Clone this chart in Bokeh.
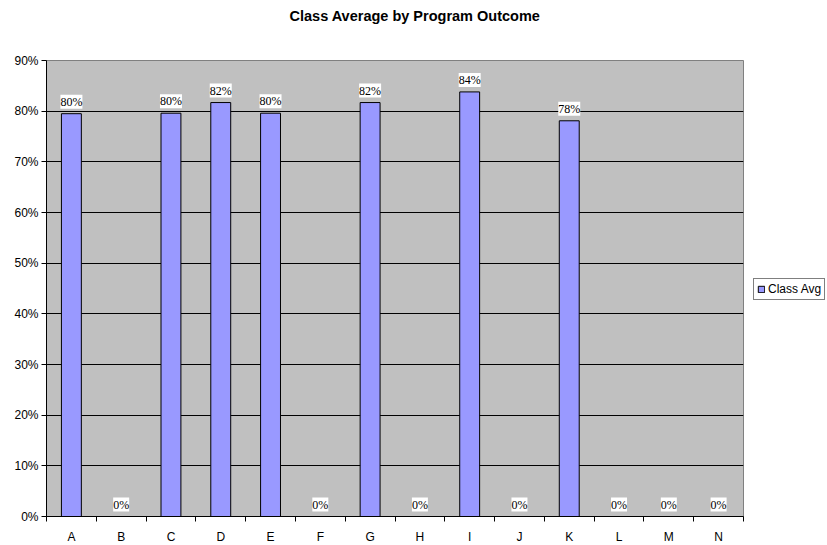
from bokeh.plotting import figure
from bokeh.layouts import row
from bokeh.models import (ColumnDataSource, FixedTicker, NumeralTickFormatter, Range1d,
                          LabelSet, Legend, LegendItem, Title)
from bokeh.embed import file_html
from bokeh.resources import INLINE

categories = ["A", "B", "C", "D", "E", "F", "G", "H", "I", "J", "K", "L", "M", "N"]
class_avg = [0.795, 0.0, 0.796, 0.817, 0.796, 0.0, 0.817, 0.0, 0.838, 0.0, 0.781, 0.0, 0.0, 0.0]
y_ticks = [0.0, 0.1, 0.2, 0.3, 0.4, 0.5, 0.6, 0.7, 0.8, 0.9]
title_text = "Class Average by Program Outcome"
series_name = "Class Avg"

FONT = "Liberation Sans"
FS = "12px"
BAR_FILL = "#9999FF"

xs = [i + 0.5 for i in range(len(categories))]
src = ColumnDataSource(dict(
    x=xs, top=class_avg,
    label=["{:.0f}%".format(v * 100) for v in class_avg],
))

FW, FH = 697, 456
TOP = 60
p = figure(frame_width=FW, frame_height=FH, output_backend="svg", toolbar_location=None,
           x_range=Range1d(0, len(categories)), y_range=Range1d(0, 0.9),
           min_border_left=46, min_border_right=1, min_border_top=TOP, min_border_bottom=0,
           background_fill_color="#C0C0C0", border_fill_color="white",
           outline_line_color="#808080", outline_line_width=1)

spacer = Title(text=" ", text_font=FONT, text_font_size="11px", standoff=23)
p.add_layout(spacer, "above")
t = Title(text=title_text, align="left", offset=243, text_font=FONT,
          text_font_size="14.5px", text_font_style="bold", text_color="black", standoff=0)
p.add_layout(t, "above")

bars = p.vbar(x="x", top="top", width=0.4, bottom=0, source=src,
              fill_color=BAR_FILL, line_color="black", line_width=1)

labels = LabelSet(x="x", y="top", text="label", source=src, text_align="center",
                  text_baseline="bottom", y_offset=5, text_font=FONT, text_font_size=FS,
                  text_color="black", background_fill_color="white")
p.add_layout(labels)

# y axis
p.yaxis.ticker = FixedTicker(ticks=y_ticks, minor_ticks=[])
p.yaxis.formatter = NumeralTickFormatter(format="0%")
p.yaxis.major_label_text_font = FONT
p.yaxis.major_label_text_font_size = FS
p.yaxis.major_label_text_color = "black"
p.yaxis.major_tick_out = 5
p.yaxis.major_tick_in = 0
p.yaxis.major_label_standoff = 3
p.yaxis.axis_line_color = "black"
p.yaxis.major_tick_line_color = "black"

# x axis: labels at centers, ticks between categories
p.xaxis.ticker = FixedTicker(ticks=xs, minor_ticks=list(range(len(categories) + 1)))
p.xaxis.major_label_overrides = {x: c for x, c in zip(xs, categories)}
p.xaxis.major_tick_out = 0
p.xaxis.major_tick_in = 0
p.xaxis.minor_tick_out = 5
p.xaxis.minor_tick_in = 0
p.xaxis.minor_tick_line_color = "black"
p.xaxis.major_label_standoff = 8
p.xaxis.major_label_text_font = FONT
p.xaxis.major_label_text_font_size = FS
p.xaxis.major_label_text_color = "black"
p.xaxis.axis_line_color = "black"

p.xgrid.visible = False
p.ygrid.ticker = FixedTicker(ticks=y_ticks)
p.ygrid.grid_line_color = "black"
p.ygrid.grid_line_width = 1

# legend panel as a small companion figure (its series is kept outside its visible range)
p2 = figure(width=827 - 47 - FW, frame_height=FH, output_backend="svg", toolbar_location=None,
            x_range=Range1d(-101, -100), y_range=Range1d(-101, -100),
            x_axis_type=None, y_axis_type=None,
            min_border_left=0, min_border_right=0, min_border_top=TOP, min_border_bottom=20,
            outline_line_color=None, background_fill_color="white", border_fill_color="white")
p2.xgrid.visible = False
p2.ygrid.visible = False
key = p2.vbar(x="x", top="top", width=0.4, bottom=0, source=src,
              fill_color=BAR_FILL, line_color="black", line_width=1)
legend = Legend(items=[LegendItem(label=series_name, renderers=[key])],
                location=(9, FH // 2 - 12), border_line_color="black", border_line_width=1,
                background_fill_color="white", background_fill_alpha=1,
                label_text_font=FONT, label_text_font_size=FS, label_text_color="black",
                glyph_width=8, glyph_height=8, label_standoff=3, padding=3, spacing=0,
                margin=0, label_height=13)
p2.add_layout(legend)

layout = row(p, p2)
open("out.html", "w").write(file_html(layout, INLINE))
